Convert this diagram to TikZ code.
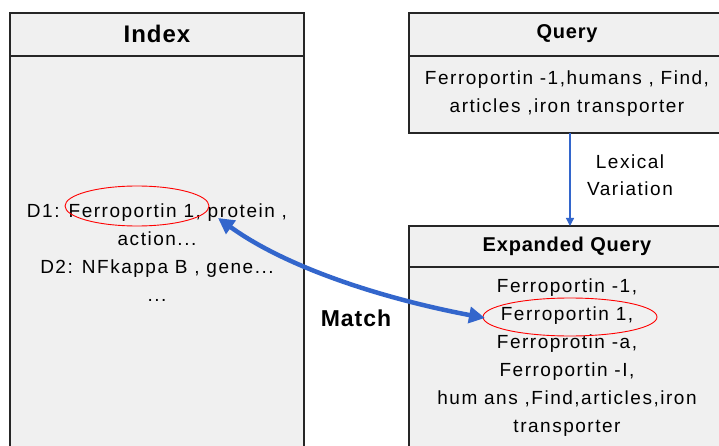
\documentclass[tikz,border=0pt]{standalone}
\usepackage{fontspec}
\setmainfont{Liberation Sans}
\newfontfamily\bodyfont[LetterSpace=8]{Liberation Sans}
\newfontfamily\headfont[LetterSpace=4]{Liberation Sans}
\usetikzlibrary{arrows.meta}
\definecolor{boxfill}{HTML}{F0F0F0}
\definecolor{linkblue}{HTML}{3366CC}
\begin{document}
\begin{tikzpicture}[x=1pt,y=-1pt,
  panel/.style={draw=black!85,line width=1.2pt,fill=boxfill},
  title/.style={font=\headfont\fontsize{20}{22}\selectfont\bfseries,anchor=center},
  body/.style={font=\bodyfont\fontsize{19}{28}\selectfont,align=center,anchor=center},
  hilite/.style={draw=red,line width=0.9pt},
]
\useasboundingbox (0,0) rectangle (719,446);
\fill[white] (0,0) rectangle (719,446);

% Index panel
\draw[panel] (10,13) rectangle (304,460);
\draw[line width=1.2pt,draw=black!85] (10,56) -- (304,56);
\node[title,font=\headfont\fontsize{24}{26}\selectfont\bfseries] (idxT) at (157,34) {Index};
\node[body] (idxB) at (157,253) {D1: Ferroportin 1, protein ,\\ action...\\ D2: NFkappa B , gene...\\ ...};
\draw[hilite] (137,206) ellipse [x radius=72, y radius=20];
\coordinate (d1) at (218,218);

% Query panel
\draw[panel] (409,13) rectangle (730,133);
\draw[line width=1.2pt,draw=black!85] (409,56) -- (730,56);
\node[title] (qT) at (567,34) {Query};
\node[body] (qB) at (567,94) {Ferroportin -1,humans , Find,\\ articles ,iron transporter};
\coordinate (qbot) at (570,133);

% Expanded query panel
\draw[panel] (409,226) rectangle (730,460);
\draw[line width=1.2pt,draw=black!85] (409,267) -- (730,267);
\node[title] (eT) at (567,246) {Expanded Query};
\node[body] (eB) at (567,358) {Ferroportin -1,\\ Ferroportin 1,\\ Ferroprotin -a,\\ Ferroportin -I,\\ hum ans ,Find,articles,iron\\ transporter};
\draw[hilite] (570,317) ellipse [x radius=87, y radius=19];
\coordinate (etop) at (570,226);
\coordinate (e1) at (485,318);

% Lexical variation arrow
\draw[linkblue,line width=1.2pt,-{Triangle[length=8pt,width=8pt]}] (qbot) -- (etop);
\node[font=\bodyfont\fontsize{19}{27}\selectfont,align=center] (lex) at (630,175) {Lexical\\ Variation};

% Match arrow
\draw[linkblue,line width=4.5pt,{Triangle[length=16pt,width=16pt]}-{Triangle[length=16pt,width=16pt]}]
  (d1) .. controls (290,270) and (390,300) .. (e1);
\node[font=\headfont\fontsize{23}{26}\selectfont\bfseries] (match) at (356,318) {Match};
\end{tikzpicture}
\end{document}
